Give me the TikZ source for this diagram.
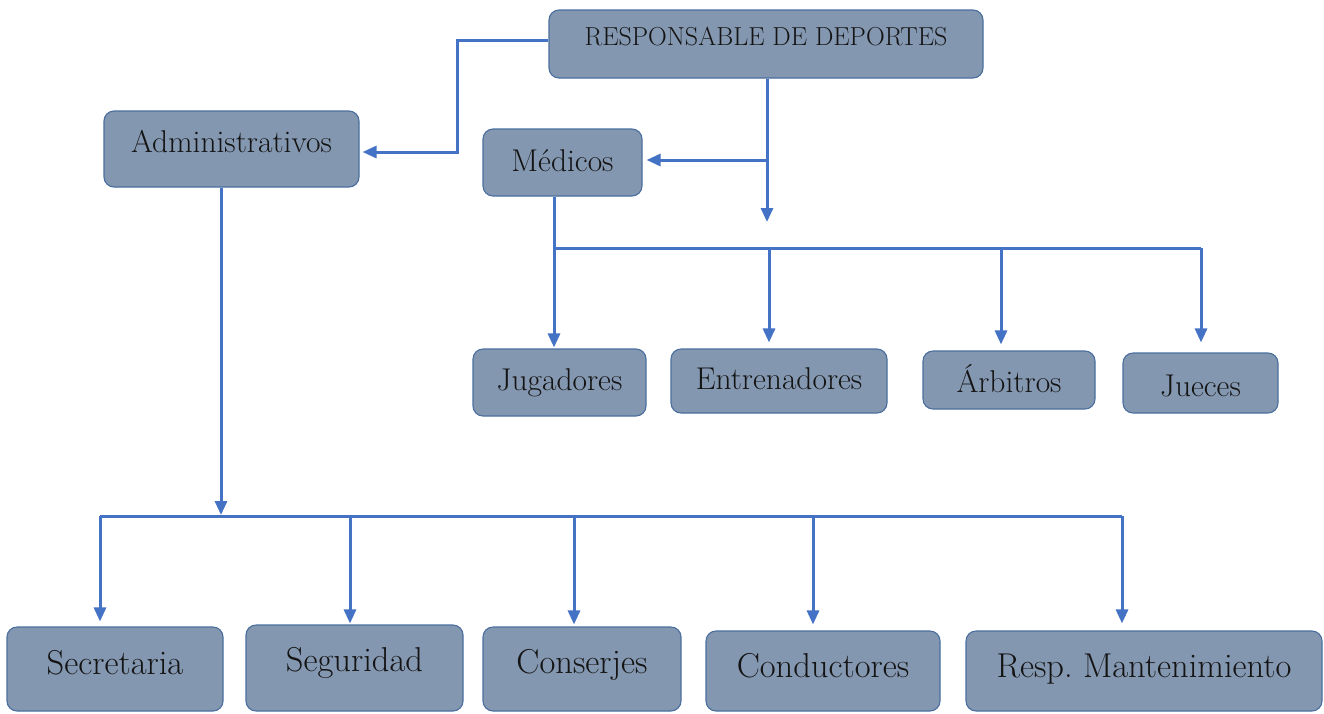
\documentclass[tikz,border=0pt]{standalone}
\usepackage{fontspec}
\usetikzlibrary{arrows.meta}
\definecolor{boxfill}{HTML}{8497B0}
\definecolor{boxline}{HTML}{4A6E9E}
\definecolor{arrblue}{HTML}{4472C4}
\definecolor{txt}{HTML}{141414}
\frenchspacing
\tikzset{
  bx/.style={draw=boxline, line width=1.1pt, fill=boxfill, rounded corners=10pt,
    inner sep=0pt, text=txt, align=center},
  ftop/.style={font=\fontsize{26}{30}\selectfont},
  fmid/.style={font=\fontsize{31.5}{35}\selectfont},
  fbot/.style={font=\fontsize{34.5}{38}\selectfont},
  ln/.style={draw=arrblue, line width=3pt},
  arr/.style={ln, -{Triangle[length=14pt,width=12pt]}},
}
\begin{document}
\begin{tikzpicture}[x=1pt,y=-1pt]
\useasboundingbox (0,0) rectangle (1324,713);
% nodes
\node[bx, ftop, minimum width=434pt, minimum height=68pt, text height=27.8pt, text depth=25pt] (resp) at (766,44) {RESPONSABLE DE DEPORTES};
\node[bx, fmid, minimum width=255pt, minimum height=76pt, text height=31.5pt, text depth=24.6pt] (admin) at (231.5,149) {Administrativos};
\node[bx, fmid, minimum width=159pt, minimum height=67pt, text height=31.5pt, text depth=13pt] (med) at (562.5,162.5) {Médicos};
\node[bx, fmid, minimum width=173pt, minimum height=67pt, text height=31.5pt, text depth=16pt] (jug) at (559.5,382.5) {Jugadores};
\node[bx, fmid, minimum width=216pt, minimum height=64pt, text height=31.5pt, text depth=14pt] (ent) at (779,381) {Entrenadores};
\node[bx, fmid, minimum width=172pt, minimum height=58pt, text height=31.5pt, text depth=6pt] (arb) at (1009,380) {Árbitros};
\node[bx, fmid, minimum width=155pt, minimum height=60pt, text height=31.5pt, text depth=5pt] (jue) at (1200.5,383) {Jueces};
\node[bx, fbot, minimum width=216pt, minimum height=84pt, text height=33.6pt, text depth=22pt] (sec) at (115,669) {Secretaria};
\node[bx, fbot, minimum width=217pt, minimum height=86pt, text height=33.6pt, text depth=26pt] (seg) at (354.5,668) {Seguridad};
\node[bx, fbot, minimum width=198pt, minimum height=84pt, text height=33.6pt, text depth=24pt] (con) at (582,669) {Conserjes};
\node[bx, fbot, minimum width=234pt, minimum height=80pt, text height=33.6pt, text depth=20pt] (cond) at (823,671) {Conductores};
\node[bx, fbot, minimum width=356pt, minimum height=80pt, text height=33.6pt, text depth=20pt] (mant) at (1144,671) {Resp.\ Mantenimiento};
% bend / junction coordinates
\coordinate (lb) at (457,40);
\coordinate (rtip) at (767,222);
\coordinate (mb) at (767,160);
\coordinate (tl) at (554,248);
\coordinate (t2) at (769,248);
\coordinate (t3) at (1001,248);
\coordinate (t4) at (1201,248);
\coordinate (bt) at (221,516);
\coordinate (b1) at (100,516);
\coordinate (b2) at (350,516);
\coordinate (b3) at (574,516);
\coordinate (b4) at (813,516);
\coordinate (b5) at (1122,516);
% connectors
\draw[arr, shorten >=3pt] (resp.west |- lb) -- (lb) |- ([yshift=-3pt]admin.east);
\draw[arr] (resp.south -| rtip) -- (rtip);
\draw[arr, shorten >=4pt] (mb) -- (mb -| med.east);
\draw[arr, shorten >=1pt] (med.south -| tl) -- (jug.north -| tl);
\draw[ln] (tl) -- (t4);
\draw[arr, shorten >=6pt] (t2) -- (t2 |- ent.north);
\draw[arr, shorten >=6pt] (t3) -- (t3 |- arb.north);
\draw[arr, shorten >=10pt] (t4) -- (t4 |- jue.north);
\draw[arr, shorten >=1pt] (admin.south -| bt) -- (bt);
\draw[ln] (b1) -- (b5);
\draw[arr, shorten >=5pt] (b1) -- (b1 |- sec.north);
\draw[arr, shorten >=1pt] (b2) -- (b2 |- seg.north);
\draw[arr, shorten >=2pt] (b3) -- (b3 |- con.north);
\draw[arr, shorten >=6pt] (b4) -- (b4 |- cond.north);
\draw[arr, shorten >=7pt] (b5) -- (b5 |- mant.north);
\end{tikzpicture}
\end{document}
